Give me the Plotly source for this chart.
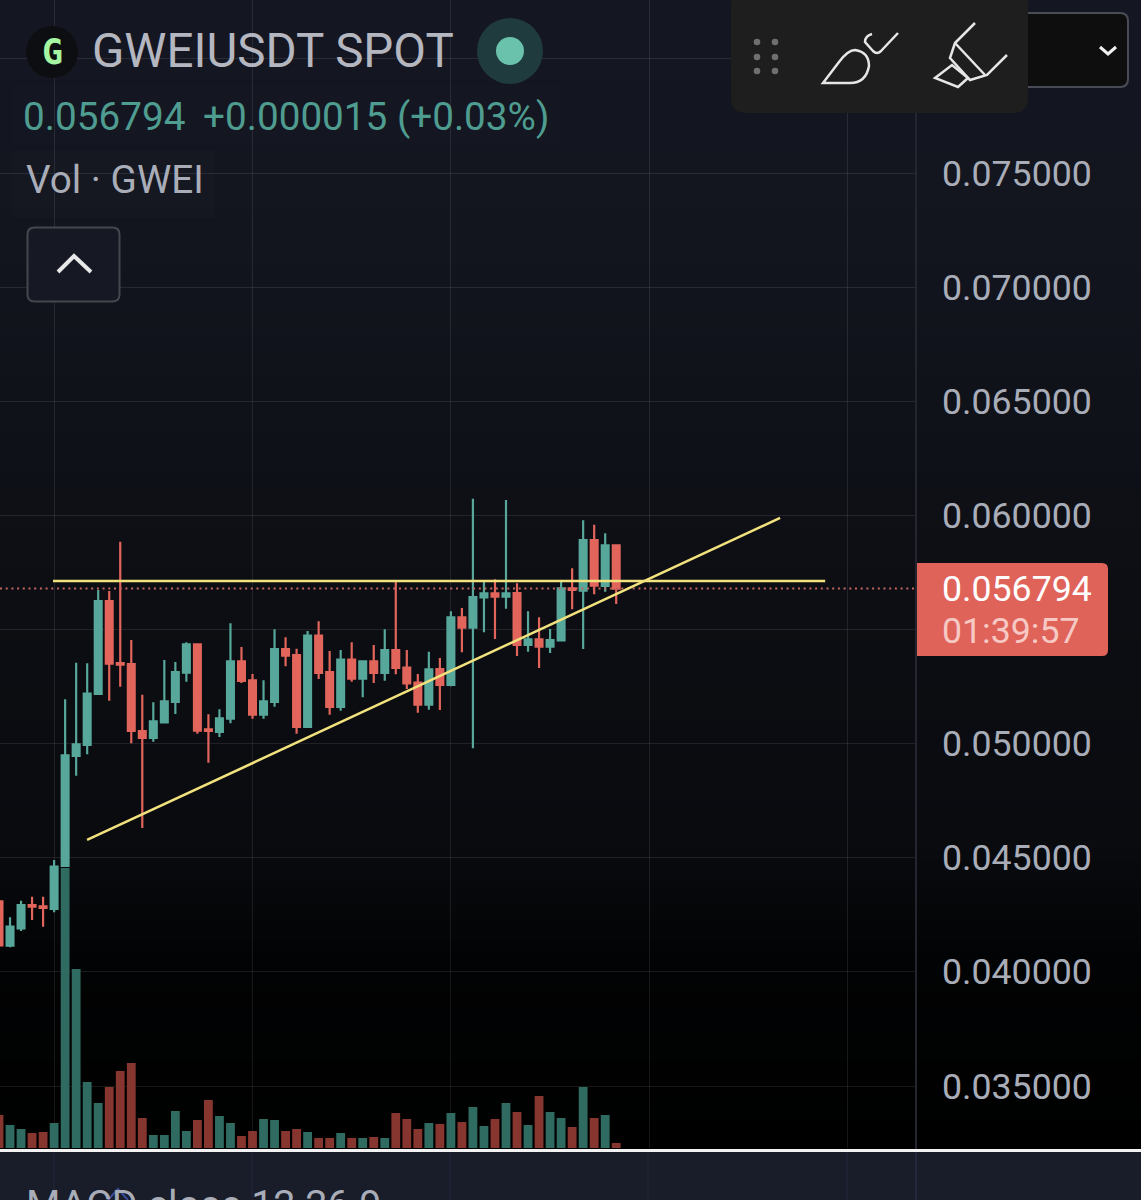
import re
import plotly.graph_objects as go

W, H = 1141, 1200

opens = [0.043092,0.041150,0.041909,0.042931,0.042873,0.042756,0.044640,0.049459,0.049941,0.052175,
         0.056249,0.053533,0.053489,0.050554,0.050247,0.050934,0.051824,0.053110,0.054351,0.050627,
         0.050510,0.051094,0.053606,0.052774,0.051270,0.051824,0.054146,0.053884,0.050729,0.054730,
         0.053139,0.051605,0.053679,0.052847,0.053606,0.053095,0.054103,0.053329,0.052671,0.051708,
         0.053270,0.052569,0.055534,0.055081,0.056410,0.056585,0.056439,0.056600,0.054322,0.054570,
         0.054249,0.054526,0.056804,0.056702,0.058922,0.056906,0.058688]
highs = [0.043179,0.042391,0.043121,0.043296,0.043296,0.044903,0.051941,0.053548,0.053518,0.056731,
         0.056687,0.058849,0.054541,0.052146,0.051810,0.053664,0.053577,0.054438,0.054380,0.051284,
         0.051503,0.055271,0.054234,0.053051,0.052774,0.055008,0.054657,0.054161,0.054935,0.055358,
         0.054059,0.054103,0.054438,0.053606,0.054322,0.055008,0.057169,0.054103,0.053051,0.054030,
         0.053752,0.055796,0.055943,0.060732,0.057169,0.057198,0.060674,0.057023,0.055796,0.055534,
         0.055023,0.057169,0.057680,0.059783,0.059593,0.059214,0.058688]
lows  = [0.041077,0.041077,0.041792,0.042274,0.041982,0.042610,0.044640,0.048597,0.049532,0.052175,
         0.051883,0.052496,0.050014,0.046305,0.050087,0.050934,0.051299,0.052715,0.050437,0.049167,
         0.050291,0.050890,0.052657,0.051094,0.051094,0.051620,0.053387,0.050437,0.050729,0.052832,
         0.051270,0.051445,0.052715,0.052029,0.052657,0.052759,0.053037,0.052394,0.051357,0.051489,
         0.051474,0.052511,0.054000,0.049795,0.054877,0.054584,0.055913,0.053840,0.054030,0.053314,
         0.053971,0.054526,0.055884,0.054146,0.056541,0.056658,0.056118]
closes = [0.041164,0.041982,0.042931,0.042858,0.042800,0.044611,0.049488,0.049970,0.052190,0.056249,
          0.053504,0.053460,0.050554,0.050247,0.050978,0.051854,0.053139,0.054351,0.050569,0.050554,
          0.051109,0.053606,0.052744,0.051270,0.051854,0.054146,0.053854,0.050729,0.054730,0.053095,
          0.051605,0.053679,0.052847,0.053606,0.053095,0.054103,0.053314,0.052642,0.051708,0.053256,
          0.052569,0.055534,0.055081,0.056424,0.056585,0.056439,0.056585,0.054322,0.054570,0.054249,
          0.054541,0.056804,0.056731,0.058922,0.056921,0.058688,0.056794]
volumes = [33,23,19,15,16,25,280,179,66,45,61,77,85,30,13,13,37,17,28,48,32,25,12,17,29,28,17,19,16,10,
           10,15,10,10,11,10,35,29,19,25,24,35,26,41,22,29,45,36,23,52,36,30,21,61,30,33,5]
candle_index = list(range(len(opens)))

price_ticks = [0.035,0.040,0.045,0.050,0.055,0.060,0.065,0.070,0.075,0.080]
price_labels = ["0.035000","0.040000","0.045000","0.050000","","0.060000","0.065000","0.070000","0.075000",""]
time_ticks = [5,23,41,59,77]
last_price = 0.056794
support_x = [7.99, 70.87]
support_y = [0.045779, 0.059886]
resist_x = [4.9, 74.96]
resist_y = [0.057125, 0.057125]

GREEN, RED = "#57A79B", "#E2655C"
VGREEN, VRED = "#2F6B60", "#87352F"
TXT = "#A9ADB8"

def X(p): return p / W
def Y(p): return 1 - p / H

def path(d):
    toks = re.findall(r"[A-Za-z]|-?[\d.]+", d)
    out, isx = [], True
    for t in toks:
        if t.isalpha():
            out.append(t); isx = True
        else:
            out.append(f"{X(float(t)) if isx else Y(float(t)):.5f}"); isx = not isx
    return " ".join(out)

shapes = []
def add_path(d, fill=None, line=None, lw=0, layer="above"):
    shapes.append(dict(type="path", xref="paper", yref="paper", path=path(d), layer=layer,
                       fillcolor=fill or "rgba(0,0,0,0)",
                       line=dict(color=line or "rgba(0,0,0,0)", width=lw)))
def add_rect(x0,y0,x1,y1,fill,layer="above"):
    shapes.append(dict(type="rect", xref="paper", yref="paper", x0=X(x0), x1=X(x1), y0=Y(y1), y1=Y(y0),
                       fillcolor=fill, line=dict(width=0), layer=layer))
def round_rect(x0,y0,x1,y1,r,fill,line=None,lw=0):
    add_path(f"M{x0+r},{y0} L{x1-r},{y0} Q{x1},{y0} {x1},{y0+r} L{x1},{y1-r} Q{x1},{y1} {x1-r},{y1} "
             f"L{x0+r},{y1} Q{x0},{y1} {x0},{y1-r} L{x0},{y0+r} Q{x0},{y0} {x0+r},{y0} Z", fill, line, lw)
def circle(cx,cy,r,fill):
    shapes.append(dict(type="circle", xref="paper", yref="paper", x0=X(cx-r), x1=X(cx+r), y0=Y(cy+r), y1=Y(cy-r),
                       fillcolor=fill, line=dict(width=0), layer="above"))

# vertical background gradient
stops = [(0,(20,23,34)),(300,(18,20,29)),(600,(12,14,19)),(840,(9,11,15)),(960,(2,3,4)),(1150,(0,0,0))]
def col(y):
    for (a,ca),(b,cb) in zip(stops,stops[1:]):
        if a <= y <= b:
            t=(y-a)/(b-a)
            return "rgb(%d,%d,%d)"%tuple(round(u+(v-u)*t) for u,v in zip(ca,cb))
    return "rgb(0,0,0)"
for y0 in range(0,1150,10):
    add_rect(0,y0,W,y0+10.5,col(y0+5),layer="below")

# overlays
add_rect(12,150,215,218,"rgba(255,255,255,0.012)")
add_rect(12,85,560,142,"rgba(255,255,255,0.008)")
add_rect(0,1152,W,H,"#191C29")
for vx in (54,252,450,648,847):
    add_rect(vx-0.5,1152,vx+0.5,H,"#24273A")
add_rect(0,1149,W,1152,"#F2F2F2")
add_rect(915,0,917,1149,"#23262F")
add_rect(915,1152,917,H,"#24273A")

# header icons
circle(52,52,26,"#0D0E11")
circle(510,51,33,"#1F3B3D")
circle(510,51,14,"#6BC2AC")
# collapse button
round_rect(27.5,227.5,119.5,301.5,7,"#161823","#45474E",2)
add_path("M58,272 L74,256 L91,272","rgba(0,0,0,0)","#E8E8E8",4)
# dropdown and toolbar
round_rect(1000,13,1128,87,8,"#0E0E0F","#4A4C55",2)
add_path("M1100,47 L1108,54 L1116,47","rgba(0,0,0,0)","#F0F0F0",3)
round_rect(731,-10,1028,113,15,"#1E1E1F")
for dx in (757,775):
    for dy in (42,57,71):
        circle(dx,dy,3.3,"#6F6F6F")
ICON="#E6E6E6"
add_path("M823,83 L839,62 Q848,50 855,50 Q869,52 869,66 Q866,83 850,83 Z",None,ICON,2.5)
add_path("M872,34 Q865,36 865,42 L873,51 Q877,55 881,51 L898,33",None,ICON,2.5)
add_path("M975,23 L955,43 L950,58 L970,80 L987,75 L1007,55",None,ICON,2.5)
add_path("M955,43 L985,75",None,ICON,2.5)
add_path("M935,78 L952,65 L968,78 L958,87 Z",None,ICON,2.5)
# last price tag
add_path("M917,563 L1102,563 Q1108,563 1108,569 L1108,650 Q1108,656 1102,656 L917,656 Z","#E0635A")
# MACD pane glyph
add_path("M108,1200 L118,1189 L128,1200",None,"#3B4C9B",2)

def label(px,py,text,size,color,anchor="left",family="Roboto"):
    return dict(x=X(px),y=Y(py),xref="paper",yref="paper",text=text,showarrow=False,xanchor=anchor,yanchor="middle",
                font=dict(family=family,size=size,color=color),align="left",borderpad=0,borderwidth=0)

annotations = [
    label(92,51,"GWEIUSDT SPOT",47.5,"#B4B6C0"),
    label(23,116,"0.056794",38.7,"#4F9C90"),
    label(203,116,"+0.000015 (+0.03%)",38.7,"#4F9C90"),
    label(26,179,"Vol · GWEI",38.7,TXT),
    label(52,52,"<b>G</b>",35,"#A6F5A3","center","DejaVu Sans Mono"),
    label(942,589,"0.056794",35.7,"#FFFFFF"),
    label(942,631,"01:39:57",35.7,"#F6C9C5"),
    label(26,1204,"MACD close 12 26 9",39.4,TXT),
]

fig = go.Figure()
fig.add_trace(go.Bar(x=candle_index, y=volumes, width=0.8, yaxis="y",
                     marker=dict(color=[VGREEN if c>=o else VRED for o,c in zip(opens,closes)], line=dict(width=0)),
                     showlegend=False, hoverinfo="skip"))
fig.add_trace(go.Scatter(x=[0.09,83.2], y=[last_price,last_price], yaxis="y2", mode="lines",
                         line=dict(color="#C4655E", width=2, dash="2px,3.7px"), showlegend=False, hoverinfo="skip"))
fig.add_trace(go.Candlestick(x=candle_index, open=opens, high=highs, low=lows, close=closes, yaxis="y2",
                             increasing=dict(line=dict(color=GREEN,width=2.2),fillcolor=GREEN),
                             decreasing=dict(line=dict(color=RED,width=2.2),fillcolor=RED),
                             whiskerwidth=0, showlegend=False, hoverinfo="skip"))
fig.add_trace(go.Scatter(x=resist_x, y=resist_y, yaxis="y2", mode="lines", line=dict(color="#F1E27E",width=2.5),
                         showlegend=False, hoverinfo="skip"))
fig.add_trace(go.Scatter(x=support_x, y=support_y, yaxis="y2", mode="lines", line=dict(color="#F1E27E",width=2.5),
                         showlegend=False, hoverinfo="skip"))

dom = [1-1148/H, 1]
GRID = "rgba(255,255,255,0.09)"
fig.update_layout(
    width=W, height=H, margin=dict(l=0,r=0,t=0,b=0), autosize=False,
    paper_bgcolor="#141722", plot_bgcolor="rgba(0,0,0,0)",
    showlegend=False, shapes=shapes, annotations=annotations, hovermode=False,
    font=dict(family="Roboto"), boxgap=0.38, boxgroupgap=0,
    xaxis=dict(domain=[0,916/W], range=[0.09,83.2], tickvals=time_ticks, showticklabels=False, ticks="",
               showgrid=True, gridcolor=GRID, gridwidth=1, zeroline=False, showline=False, rangeslider=dict(visible=False)),
    yaxis=dict(domain=dom, range=[0,1148], visible=False, showgrid=False, zeroline=False),
    yaxis2=dict(domain=dom, overlaying="y", side="right", range=[0.032285,0.082579],
                tickmode="array", tickvals=price_ticks, ticktext=price_labels, ticks="", ticklabelstandoff=25,
                tickfont=dict(family="Roboto",size=35.7,color=TXT), showgrid=True, gridcolor=GRID, gridwidth=1,
                zeroline=False, showline=False, automargin=False),
)
fig.write_html("out.html", config=dict(displayModeBar=False), post_script="document.body.style.margin='0';document.body.style.overflow='hidden';")
